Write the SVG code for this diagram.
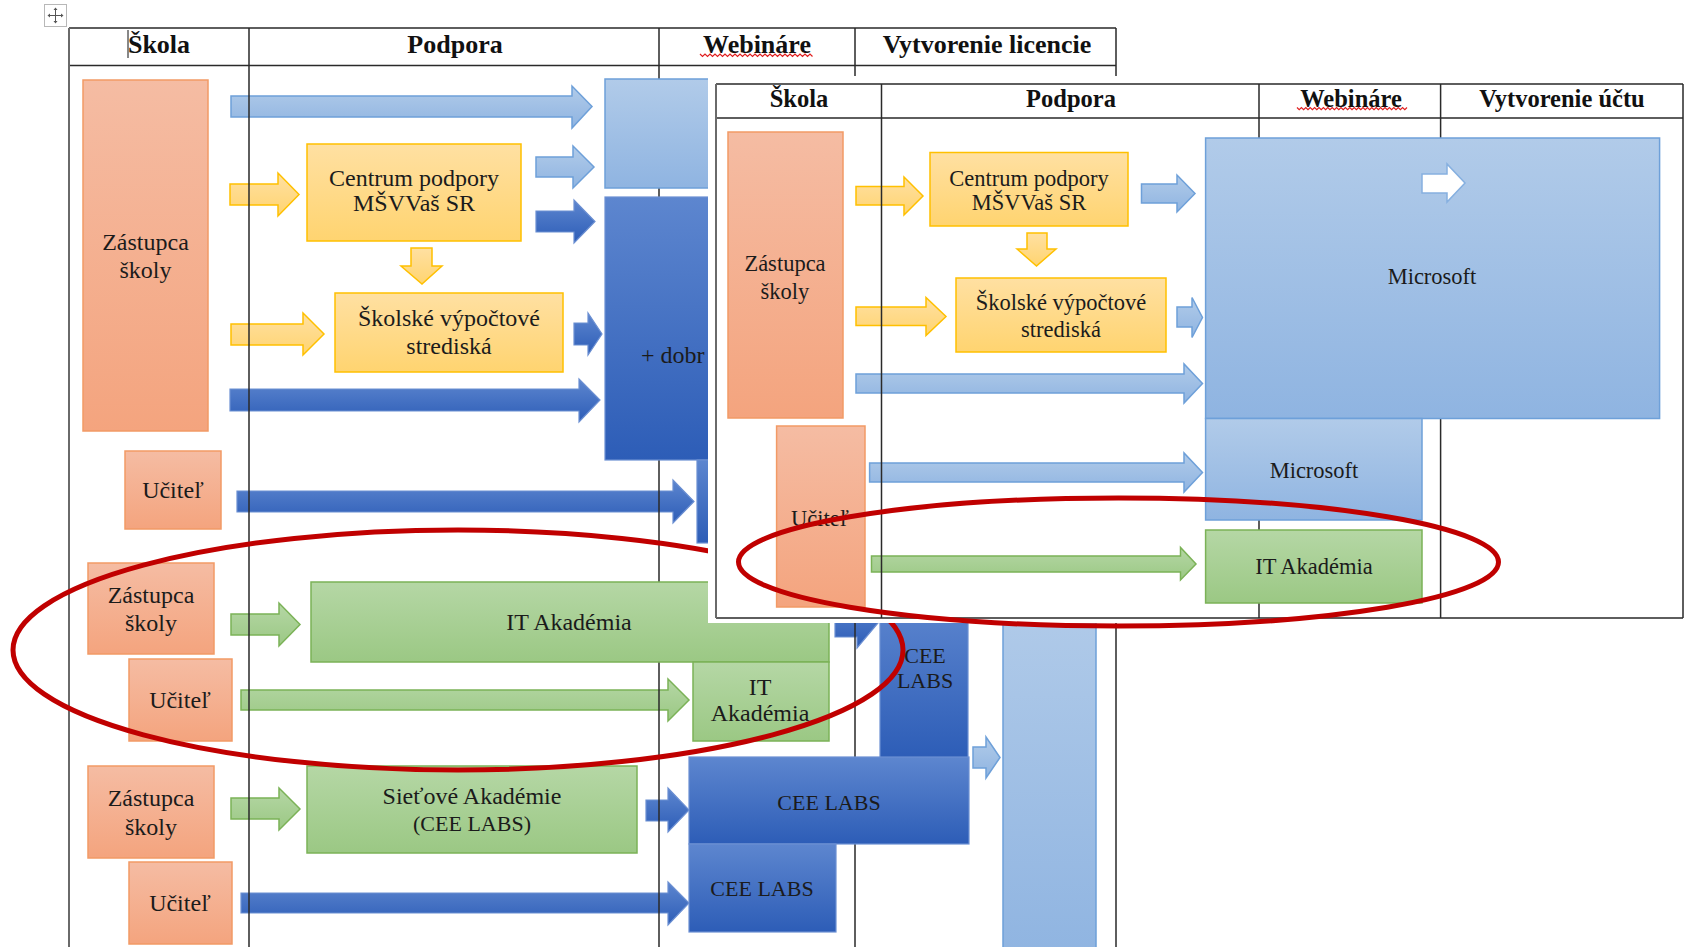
<svg xmlns="http://www.w3.org/2000/svg" width="1685" height="947" viewBox="0 0 1685 947">
<defs>
<linearGradient id="gSal" x1="0" y1="0" x2="0" y2="1"><stop offset="0" stop-color="#F5BCA3"/><stop offset="1" stop-color="#F4A47E"/></linearGradient>
<linearGradient id="gYel" x1="0" y1="0" x2="0" y2="1"><stop offset="0" stop-color="#FFE0A2"/><stop offset="1" stop-color="#FFD470"/></linearGradient>
<linearGradient id="gLb" x1="0" y1="0" x2="0" y2="1"><stop offset="0" stop-color="#B1CBE9"/><stop offset="1" stop-color="#8FB4E1"/></linearGradient>
<linearGradient id="gDb" x1="0" y1="0" x2="0" y2="1"><stop offset="0" stop-color="#5D86CF"/><stop offset="1" stop-color="#2D5DB7"/></linearGradient>
<linearGradient id="gGr" x1="0" y1="0" x2="0" y2="1"><stop offset="0" stop-color="#B5D7A5"/><stop offset="1" stop-color="#9BC884"/></linearGradient>
<style>
.sal{fill:url(#gSal);stroke:#F29A66;stroke-width:1.5}
.yel{fill:url(#gYel);stroke:#FFC000;stroke-width:1.5}
.lb{fill:url(#gLb);stroke:#6EA0D9;stroke-width:1.5}
.db{fill:url(#gDb);stroke:#6B8FD2;stroke-width:1.2}
.gr{fill:url(#gGr);stroke:#7BB257;stroke-width:1.5}
.wh{fill:#FFFFFF;stroke:#86B0E0;stroke-width:1.5}
.ln{stroke:#2a2a2a;stroke-width:1.5;fill:none}
.lg{stroke:#6a6a6a;stroke-width:2;fill:none}
.t{font-family:'Liberation Serif','DejaVu Serif',serif;font-size:24px;fill:#1b1b1b;text-anchor:middle;dominant-baseline:central}
.o{font-size:22.5px}
.h{font-family:'Liberation Serif','DejaVu Serif',serif;font-weight:bold;font-size:26px;fill:#111;text-anchor:middle;dominant-baseline:central}
.ho{font-size:24.5px}
.ell{fill:none;stroke:#C00000;stroke-width:5}
.wave{fill:none;stroke:#E02020;stroke-width:1.2}
</style>
</defs>
<rect x="0" y="0" width="1685" height="947" fill="#FFFFFF"/>

<!-- move handle -->
<g id="move-handle">
<rect x="44.5" y="4.5" width="22" height="22" fill="#FFFFFF" stroke="#B8B8B8" stroke-width="1"/>
<path d="M49 15.5 H62 M55.5 9 V22" stroke="#555" stroke-width="1" fill="none"/>
<path d="M55.5 7.5 L53.5 10 H57.5 Z M55.5 23.5 L53.5 21 H57.5 Z M47.5 15.5 L50 13.5 V17.5 Z M63.5 15.5 L61 13.5 V17.5 Z" fill="#555"/>
</g>

<!-- ===== Background document ===== -->
<g id="bg-connectors">
<polygon class="lb" points="231,96 572,96 572,86 592,106.5 572,128 572,117 231,117"/>
<polygon class="yel" points="230,184 278,184 278,173 299,194.5 278,216 278,205 230,205"/>
<polygon class="lb" points="536,157 573,157 573,146 594,167 573,188 573,177 536,177"/>
<polygon class="db" points="536,211 574,211 574,200 595,221.5 574,243 574,232 536,232"/>
<polygon class="yel" points="411,248 432,248 432,266 442,266 422,284 401,266 411,266"/>
<polygon class="yel" points="231,324 303,324 303,313 324,334 303,355 303,345 231,345"/>
<polygon class="db" points="574,323 588,323 588,313 602,334 588,355 588,345 574,345"/>
<polygon class="db" points="230,389 579,389 579,379 600,400 579,422 579,411 230,411"/>
<polygon class="db" points="237,491 673,491 673,480 694,501.5 673,523 673,512 237,512"/>
<polygon class="gr" points="231,614 279,614 279,603 300,624.5 279,646 279,635 231,635"/>
<polygon class="gr" points="241,690 668,690 668,679 689,700 668,721 668,710 241,710"/>
<polygon class="db" points="835,609 857,609 857,598 878,623 857,648 857,637 835,637"/>
<polygon class="lb" points="973,747 986,747 986,737 1000,757.5 986,778 986,768 973,768"/>
<polygon class="gr" points="231,798 279,798 279,788 300,809 279,830 279,819 231,819"/>
<polygon class="db" points="646,800 668,800 668,788 689,810 668,832 668,821 646,821"/>
<polygon class="db" points="241,893 668,893 668,882 689,903 668,925 668,913 241,913"/>
</g>

<g id="bg-table">
<path class="ln" d="M69 28 H1116 M69 65.5 H1116 M249 28 V947 M659 28 V947 M855 28 V947 M1116 28 V947"/>
<path class="lg" d="M69 28 V947"/>
<line x1="128" y1="30" x2="128" y2="58" stroke="#111" stroke-width="1"/>
<text class="h" x="159" y="44">Škola</text>
<text class="h" x="455" y="44">Podpora</text>
<text class="h" x="757" y="44">Webináre</text>
<path class="wave" d="M700 54 l2.5 2.5 l2.5 -2.5 l2.5 2.5 l2.5 -2.5 l2.5 2.5 l2.5 -2.5 l2.5 2.5 l2.5 -2.5 l2.5 2.5 l2.5 -2.5 l2.5 2.5 l2.5 -2.5 l2.5 2.5 l2.5 -2.5 l2.5 2.5 l2.5 -2.5 l2.5 2.5 l2.5 -2.5 l2.5 2.5 l2.5 -2.5 l2.5 2.5 l2.5 -2.5 l2.5 2.5 l2.5 -2.5 l2.5 2.5 l2.5 -2.5 l2.5 2.5 l2.5 -2.5 l2.5 2.5 l2.5 -2.5 l2.5 2.5 l2.5 -2.5 l2.5 2.5 l2.5 -2.5 l2.5 2.5 l2.5 -2.5 l2.5 2.5 l2.5 -2.5 l2.5 2.5 l2.5 -2.5 l2.5 2.5 l2.5 -2.5 l2.5 2.5 l2.5 -2.5 l2.5 2.5"/>
<text class="h" x="987" y="44">Vytvorenie licencie</text>
</g>

<g id="bg-zastupca-1"><rect class="sal" x="83" y="80" width="125" height="351"/><text class="t" x="145.5" y="242">Zástupca</text><text class="t" x="145.5" y="270">školy</text></g>
<g id="bg-centrum"><rect class="yel" x="307" y="144" width="214" height="97"/><text class="t" x="414" y="178">Centrum podpory</text><text class="t" x="414" y="203">MŠVVaš SR</text></g>
<g id="bg-skolske"><rect class="yel" x="335" y="293" width="228" height="79"/><text class="t" x="449" y="318">Školské výpočtové</text><text class="t" x="449" y="346">strediská</text></g>
<g id="bg-webinar-lb"><rect class="lb" x="605" y="79" width="120" height="109" stroke="none"/></g>
<g id="bg-dobre"><rect class="db" x="605" y="197" width="120" height="263"/><text class="t" x="641" y="355" text-anchor="start" style="text-anchor:start">+ dobr</text></g>
<g id="bg-hidden-db"><rect class="db" x="697" y="460" width="30" height="83"/></g>
<g id="bg-ucitel-1"><rect class="sal" x="125" y="451" width="96" height="78"/><text class="t" x="173" y="490">Učiteľ</text></g>
<g id="bg-zastupca-2"><rect class="sal" x="88" y="563" width="126" height="91"/><text class="t" x="151" y="595">Zástupca</text><text class="t" x="151" y="623">školy</text></g>
<g id="bg-it-akademia"><rect class="gr" x="311" y="582" width="518" height="80"/><text class="t" x="569" y="622">IT Akadémia</text></g>
<g id="bg-ucitel-2"><rect class="sal" x="129" y="659" width="103" height="82"/><text class="t" x="180" y="700">Učiteľ</text></g>
<g id="bg-it-akademia-2"><rect class="gr" x="693" y="662" width="136" height="79"/><text class="t" x="760" y="687">IT</text><text class="t" x="760" y="713">Akadémia</text></g>
<g id="bg-cee-tall"><rect class="db" x="880" y="600" width="88" height="158"/><text class="t" x="925" y="655" style="font-size:22px">CEE</text><text class="t" x="925" y="680" style="font-size:22px">LABS</text></g>
<g id="bg-lb-tall"><rect class="lb" x="1003" y="600" width="93" height="360"/></g>
<g id="bg-zastupca-3"><rect class="sal" x="88" y="766" width="126" height="92"/><text class="t" x="151" y="798">Zástupca</text><text class="t" x="151" y="827">školy</text></g>
<g id="bg-sietove"><rect class="gr" x="307" y="766" width="330" height="87"/><text class="t" x="472" y="796">Sieťové Akadémie</text><text class="t" x="472" y="823" style="font-size:22px">(CEE LABS)</text></g>
<g id="bg-cee-wide"><rect class="db" x="689" y="757" width="280" height="87"/><text class="t" x="829" y="802" style="font-size:22px">CEE LABS</text></g>
<g id="bg-cee-low"><rect class="db" x="689" y="844" width="147" height="88"/><text class="t" x="762" y="888" style="font-size:22px">CEE LABS</text></g>
<g id="bg-ucitel-3"><rect class="sal" x="129" y="862" width="103" height="82"/><text class="t" x="180" y="903">Učiteľ</text></g>

<g id="bg-highlight"><ellipse class="ell" cx="458" cy="650" rx="445" ry="120"/></g>

<!-- ===== Overlay document ===== -->
<rect id="overlay-sheet" x="708" y="76" width="977" height="547" fill="#FFFFFF"/>

<g id="ov-connectors">
<polygon class="yel" points="856,186.5 904,186.5 904,177 923,196 904,215 904,205 856,205"/>
<polygon class="lb" points="1141.5,184 1177,184 1177,175 1195,193.5 1177,212 1177,203 1141.5,203"/>
<polygon class="yel" points="1027,233 1047,233 1047,249 1056,249 1036.5,266 1017,249 1027,249"/>
<polygon class="yel" points="856,307 926,307 926,297.5 946,316.5 926,335.5 926,325.5 856,325.5"/>
<polygon class="lb" points="1177,307 1192,307 1192,297.5 1202.5,317.5 1192,337.5 1192,327 1177,327"/>
<polygon class="lb" points="856,374 1184,374 1184,364 1202.5,383.5 1184,403 1184,393 856,393"/>
<polygon class="lb" points="869.6,463 1184,463 1184,453 1202.5,472.5 1184,492 1184,482 869.6,482"/>
<polygon class="gr" points="871.5,556 1180.5,556 1180.5,547.5 1196,564 1180.5,580 1180.5,572 871.5,572"/>
</g>

<g id="ov-table">
<path class="ln" d="M716 84 H1683 M716 118 H1683 M716 618 H1683 M881.5 84 V618 M1259 84 V618 M1440.6 84 V618 M1683 84 V618"/>
<path class="lg" d="M716 84 V618"/>
<text class="h ho" x="799" y="98">Škola</text>
<text class="h ho" x="1071" y="98">Podpora</text>
<text class="h ho" x="1351" y="98">Webináre</text>
<path class="wave" d="M1297 107.5 l2.2 2.2 l2.2 -2.2 l2.2 2.2 l2.2 -2.2 l2.2 2.2 l2.2 -2.2 l2.2 2.2 l2.2 -2.2 l2.2 2.2 l2.2 -2.2 l2.2 2.2 l2.2 -2.2 l2.2 2.2 l2.2 -2.2 l2.2 2.2 l2.2 -2.2 l2.2 2.2 l2.2 -2.2 l2.2 2.2 l2.2 -2.2 l2.2 2.2 l2.2 -2.2 l2.2 2.2 l2.2 -2.2 l2.2 2.2 l2.2 -2.2 l2.2 2.2 l2.2 -2.2 l2.2 2.2 l2.2 -2.2 l2.2 2.2 l2.2 -2.2 l2.2 2.2 l2.2 -2.2 l2.2 2.2 l2.2 -2.2 l2.2 2.2 l2.2 -2.2 l2.2 2.2 l2.2 -2.2 l2.2 2.2 l2.2 -2.2 l2.2 2.2 l2.2 -2.2 l2.2 2.2 l2.2 -2.2 l2.2 2.2 l2.2 -2.2 l2.2 2.2 l2.2 -2.2"/>
<text class="h ho" x="1562" y="98">Vytvorenie účtu</text>
</g>

<g id="ov-zastupca"><rect class="sal" x="728" y="132" width="115" height="286"/><text class="t o" x="785" y="263">Zástupca</text><text class="t o" x="785" y="291">školy</text></g>
<g id="ov-centrum"><rect class="yel" x="930" y="152.5" width="198" height="73.5"/><text class="t o" x="1029" y="178">Centrum podpory</text><text class="t o" x="1029" y="202">MŠVVaš SR</text></g>
<g id="ov-skolske"><rect class="yel" x="956" y="278" width="210" height="74"/><text class="t o" x="1061" y="302">Školské výpočtové</text><text class="t o" x="1061" y="329">strediská</text></g>
<g id="ov-microsoft-big"><rect class="lb" x="1205.6" y="138" width="454" height="280.5"/><text class="t o" x="1432" y="276">Microsoft</text>
<polygon class="wh" points="1422,174 1447,174 1447,164 1465,183 1447,202 1447,193 1422,193"/></g>
<g id="ov-ucitel"><rect class="sal" x="776.6" y="426" width="88.4" height="181"/><text class="t o" x="820" y="518">Učiteľ</text></g>
<g id="ov-microsoft-small"><rect class="lb" x="1205.6" y="418.5" width="216.4" height="101.5"/><text class="t o" x="1314" y="470">Microsoft</text></g>
<g id="ov-it-akademia"><rect class="gr" x="1205.6" y="530" width="216.4" height="73"/><text class="t o" x="1314" y="566">IT Akadémia</text></g>

<g id="ov-highlight"><ellipse class="ell" cx="1118.5" cy="562" rx="380" ry="64"/></g>
</svg>
